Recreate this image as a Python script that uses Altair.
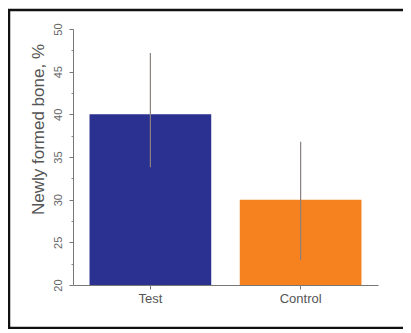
import altair as alt
import pandas as pd

groups = ["Test", "Control"]
means = [40.0, 30.0]
err_lo = [33.8, 22.9]
err_hi = [47.2, 36.8]
colors = ["#2B3190", "#F5821F"]
y_ticks = [20, 25, 30, 35, 40, 45, 50]
y_minor = [22.5, 27.5, 32.5, 37.5, 42.5, 47.5]

df = pd.DataFrame({"group": groups, "mean": means, "lo": err_lo, "hi": err_hi, "color": colors})

FONT = "Liberation Sans"

xscale = alt.Scale(domain=groups, paddingInner=0.19, paddingOuter=0.11)
yscale = alt.Scale(domain=[20, 50], nice=False, zero=False)

base = alt.Chart(df)

bars = base.mark_bar().encode(
    x=alt.X("group:N", scale=xscale, sort=groups,
            axis=alt.Axis(title=None, labelAngle=0, labelFontSize=13, labelColor="#555555",
                          labelFont=FONT, domainColor="#777777", tickColor="#777777",
                          tickSize=4, labelPadding=3, grid=False)),
    y=alt.Y("mean:Q", scale=yscale,
            axis=alt.Axis(values=y_ticks, title="Newly formed bone, %", titleFont=FONT,
                          titleFontSize=17, titleFontWeight="normal", titleColor="#555555",
                          titleAngle=-90, titleX=-35, titleY=100, titleAlign="center",
                          titleBaseline="middle",
                          labelAngle=-90, labelAlign="center", labelBaseline="bottom",
                          labelFontSize=11, labelColor="#666666", labelFont=FONT,
                          labelPadding=6, tickSize=4, tickColor="#777777",
                          domainColor="#777777", grid=False, orient="left")),
    y2=alt.datum(20),
    color=alt.Color("color:N", scale=None),
)

minor = base.mark_bar(opacity=0).encode(
    y=alt.Y("mean:Q", scale=yscale,
            axis=alt.Axis(values=y_minor, labels=False, title=None, domain=False,
                          tickSize=2, tickColor="#888888", grid=False, orient="left")),
    y2=alt.datum(20),
)

err = base.mark_rule(color="#8c7f80", strokeWidth=1.2).encode(
    x=alt.X("group:N", scale=xscale, sort=groups),
    y=alt.Y("lo:Q", scale=yscale, axis=None),
    y2="hi:Q",
)

one = pd.DataFrame({"a": [0]})
frame_top = alt.Chart(one).mark_rule(color="#111111", strokeWidth=2.5).encode(
    x=alt.value(-65), x2=alt.value(340), y=alt.value(-19)
)
frame_left = alt.Chart(one).mark_rule(color="#111111", strokeWidth=2.5).encode(
    x=alt.value(-64), y=alt.value(-20), y2=alt.value(300)
)
frame_bottom = alt.Chart(one).mark_rule(color="#111111", strokeWidth=2.5).encode(
    x=alt.value(-65), x2=alt.value(340), y=alt.value(299)
)

chart = alt.layer(bars, minor, err, frame_top, frame_left, frame_bottom).resolve_axis(
    y="independent"
).properties(
    width=305, height=256,
    autosize=alt.AutoSizeParams(type="none"),
    padding={"left": 65, "top": 21, "right": 25, "bottom": 44},
).configure(background="white").configure_view(strokeWidth=0)

chart.save("out.html", embed_options={"renderer": "svg", "actions": False})
